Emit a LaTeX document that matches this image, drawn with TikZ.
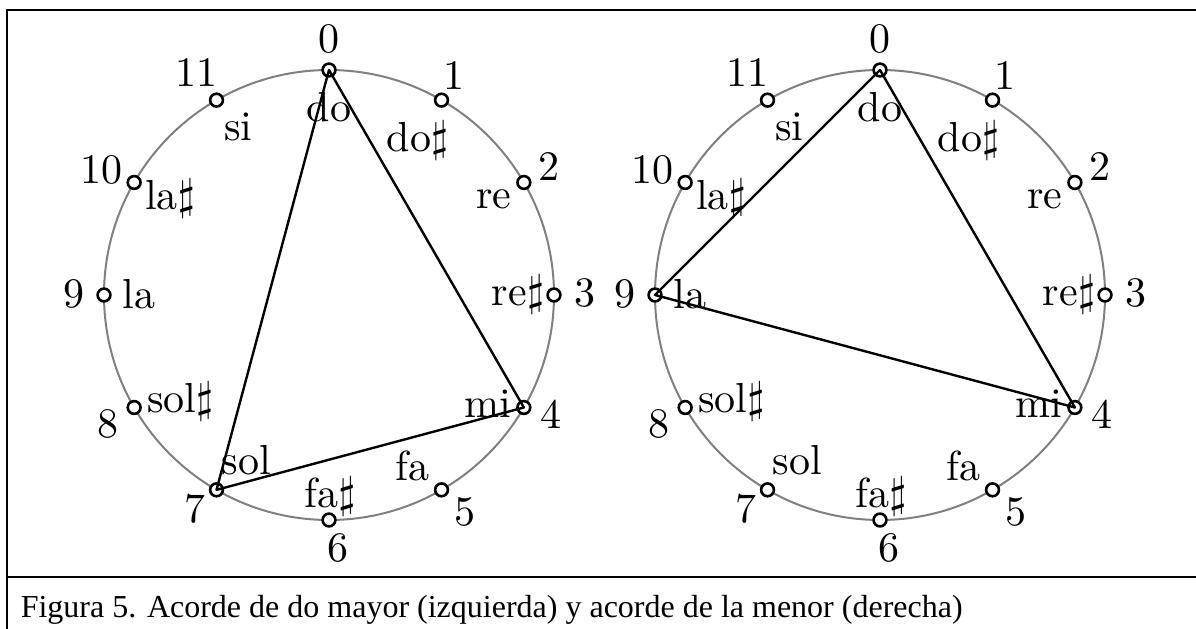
\documentclass[tikz,border=0pt]{standalone}
\usepackage{fontspec}
\usetikzlibrary{calc}
\newfontfamily\capfont{Liberation Serif}
\begin{document}
\begin{tikzpicture}[x=0.25pt,y=-0.25pt,
  pc/.style={circle, draw, fill=white, line width=0.65pt, minimum size=3.2pt, inner sep=0pt},
  lbl/.style={inner sep=0pt, anchor=center, font=\fontsize{10.5}{12.6}\selectfont},
  ring/.style={gray, line width=0.5pt},
  chord/.style={line width=0.6pt, line join=round},
  frame/.style={line width=0.5pt}]
\useasboundingbox (0,0) rectangle (1196,629);
\foreach \cx/\s in {329/L, 880/R} {
  \draw[ring] (\cx,295) circle[radius=225];
  \foreach \k/\n/\nx/\ny/\mx/\my in
     {0/do/0/-31.5/0/37,
      1/do$\sharp$/12.5/-25/-24/40,
      2/re/25/-15.5/-30/17,
      3/re$\sharp$/31/-2/-36/0,
      4/mi/27/6.5/-36/-4,
      5/fa/23.5/22/-29/-24,
      6/fa$\sharp$/9/28/1/-23,
      7/sol/-22/19/30/-30,
      8/sol$\sharp$/-26/16/46/-6,
      9/la/-30/-1/35/-1,
      10/la$\sharp$/-33/-13/36/16,
      11/si/-20/-28/22/27} {
    \node[pc] (\s\k) at ({\cx+225*sin(30*\k)},{295-225*cos(30*\k)}) {};
    \node[lbl] (\s n\k) at ($(\s\k)+(\nx,\ny)$) {\k};
    \node[lbl] (\s m\k) at ($(\s\k)+(\mx,\my)$) {\n};
  }
}
\draw[chord] (L0.center) -- (L4.center) -- (L7.center) -- cycle;
\draw[chord] (R0.center) -- (R4.center) -- (R9.center) -- cycle;
\draw[frame] (1196,10) -- (7,10) -- (7,629);
\draw[line width=0.65pt] (7,577) -- (1196,577);
\node[anchor=base west, inner sep=0pt, font=\capfont\fontsize{8}{9.6}\selectfont] (cap) at (20,617)
  {Figura 5. Acorde de do mayor (izquierda) y acorde de la menor (derecha)};
\end{tikzpicture}
\end{document}
